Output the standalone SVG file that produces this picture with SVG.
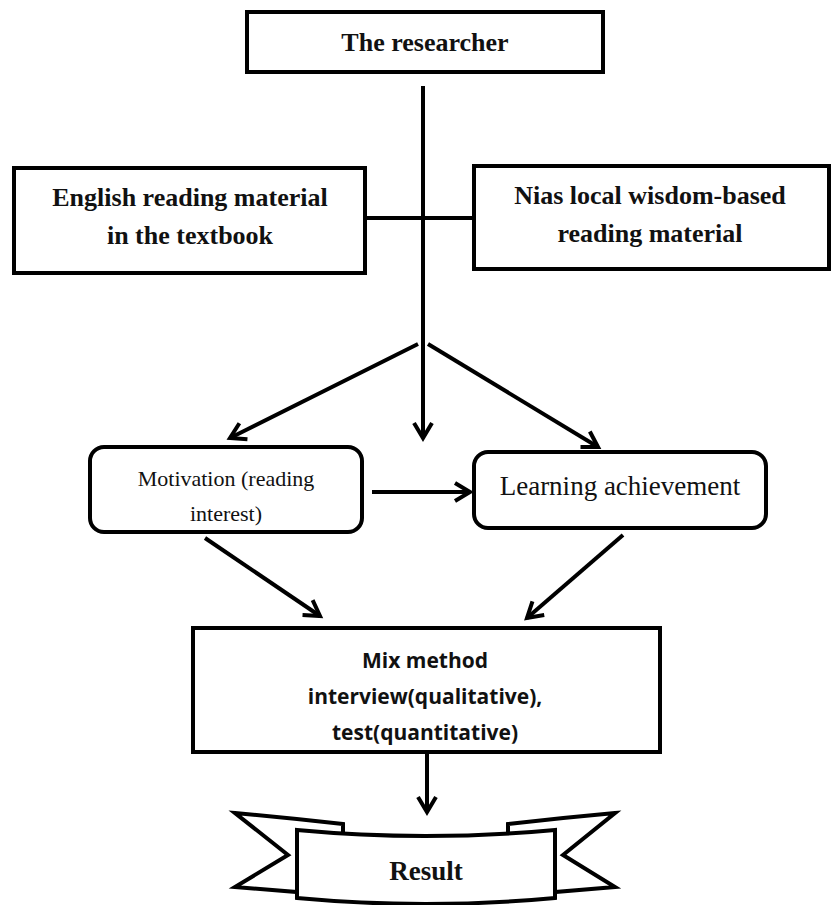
<svg xmlns="http://www.w3.org/2000/svg" width="831" height="905" viewBox="0 0 831 905">
<defs>
<marker id="ah" markerUnits="userSpaceOnUse" markerWidth="26" markerHeight="26" viewBox="0 0 26 26" refX="21" refY="13" orient="auto">
<path d="M6,4 L21,13 L6,22" fill="none" stroke="#000" stroke-width="4" stroke-linejoin="miter"/>
</marker>
</defs>
<style>
.box{fill:#fff;stroke:#000;stroke-width:4}
.line{fill:none;stroke:#000;stroke-width:4}
.arr{fill:none;stroke:#000;stroke-width:4;marker-end:url(#ah)}
.tb{font-family:"Liberation Serif",serif;font-weight:bold;font-size:26px;text-anchor:middle;fill:#111}
.tn{font-family:"Liberation Serif",serif;font-size:22px;text-anchor:middle;fill:#111}
.ts{font-family:"Open Sans","Liberation Sans",sans-serif;font-weight:bold;font-size:21px;text-anchor:middle;fill:#111}
</style>
<rect width="831" height="905" fill="#fff"/>
<g id="connectors">
<line class="line" x1="423" y1="86" x2="423" y2="343"/>
<line class="arr" x1="423" y1="343" x2="423" y2="438"/>
<line class="line" x1="365" y1="218" x2="474" y2="218"/>
<line class="arr" x1="418" y1="344" x2="230" y2="438"/>
<line class="arr" x1="428" y1="344" x2="598" y2="447"/>
<line class="arr" x1="372" y1="492" x2="470" y2="492"/>
<line class="arr" x1="205" y1="538" x2="320" y2="616"/>
<line class="arr" x1="623" y1="535" x2="527" y2="618"/>
<line class="arr" x1="427" y1="754" x2="427" y2="812"/>
</g>
<g id="researcher">
<rect class="box" x="247" y="12" width="356" height="60"/>
<text class="tb" x="425" y="51">The researcher</text>
</g>
<g id="english">
<rect class="box" x="14" y="168" width="351" height="105"/>
<text class="tb" x="190" y="206">English reading material</text>
<text class="tb" x="190" y="244">in the textbook</text>
</g>
<g id="nias">
<rect class="box" x="474" y="166" width="355" height="103"/>
<text class="tb" x="650" y="204">Nias local wisdom-based</text>
<text class="tb" x="650" y="242">reading material</text>
</g>
<g id="motivation">
<rect class="box" x="90" y="447" width="272" height="85" rx="14"/>
<text class="tn" x="226" y="486">Motivation (reading</text>
<text class="tn" x="226" y="521">interest)</text>
</g>
<g id="achievement">
<rect class="box" x="474" y="452" width="292" height="76" rx="14"/>
<text class="tn" x="620" y="495" style="font-size:27px">Learning achievement</text>
</g>
<g id="mixmethod">
<rect class="box" x="193" y="628" width="467" height="124"/>
<text class="ts" x="425" y="668">Mix method</text>
<text class="ts" x="425" y="704">interview(qualitative),</text>
<text class="ts" x="425" y="740">test(quantitative)</text>
</g>
<g id="result">
<path class="box" d="M235,813 Q290,818 343,824 L343,836 L297,836 L297,892 L235,887 L288,855 Z"/>
<path class="box" d="M615,813 Q560,818 508,824 L508,836 L555,836 L555,892 L615,887 L563,855 Z"/>
<path class="box" d="M297,830 Q425,842 555,830 L555,898 Q425,910 297,898 Z"/>
<text class="tb" x="426" y="880" style="font-size:27px">Result</text>
</g>
</svg>
